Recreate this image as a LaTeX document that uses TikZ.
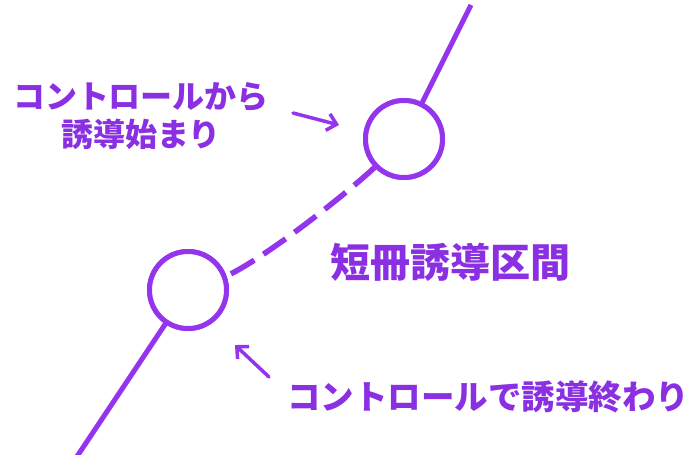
\documentclass[tikz,border=0pt]{standalone}
\usepackage{fontspec}
\newfontfamily\cjk{Noto Sans CJK JP}
\usetikzlibrary{arrows.meta}
\definecolor{vio}{RGB}{148,52,236}
\definecolor{viotext}{RGB}{138,48,226}
\tikzset{
  ring/.style={circle, draw=vio, line width=5pt, minimum size=77pt, inner sep=0pt, fill=white},
  track/.style={draw=vio, line width=5pt},
  dashtrack/.style={draw=vio, line width=5.5pt, dash pattern=on 27pt off 11pt},
  pointer/.style={draw=vio, line width=3.5pt, line cap=round, -{Straight Barb[length=9pt,width=17pt,line width=3.5pt]}},
  lbl/.style={text=viotext, font=\cjk\bfseries\fontsize{32}{38}\selectfont, inner sep=0pt, align=center},
  lbllow/.style={text=viotext, font=\cjk\bfseries\fontsize{33.5}{38}\selectfont, inner sep=0pt},
  biglbl/.style={text=viotext, font=\cjk\bfseries\fontsize{40}{44}\selectfont, inner sep=0pt}
}
\begin{document}
\begin{tikzpicture}[x=1pt,y=-1pt]
\useasboundingbox (0,0) rectangle (694,455);
\node[ring] (c1) at (404,139) {};
\node[ring] (c2) at (188,290) {};
\coordinate (top) at (471,5);
\coordinate (bot) at (76,458);
\draw[track] (c1) -- (top);
\draw[track] (c2) -- (bot);
\node[ring] at (c1) {};
\node[ring] at (c2) {};
\draw[dashtrack] (c1.224) .. controls (345,195) and (265,258) .. (c2.20);
\node[lbl] (t1) at (141,116) {コントロールから\\誘導始まり};
\node[biglbl] (t2) at (450,262) {短冊誘導区間};
\node[lbllow] (t3) at (488,397) {コントロールで誘導終わり};
\coordinate (a1s) at (293,113);
\coordinate (a1e) at (339,125);
\coordinate (a2s) at (269,377);
\coordinate (a2e) at (235,345);
\draw[pointer] (a1s) -- (a1e);
\draw[pointer] (a2s) -- (a2e);
\end{tikzpicture}
\end{document}
